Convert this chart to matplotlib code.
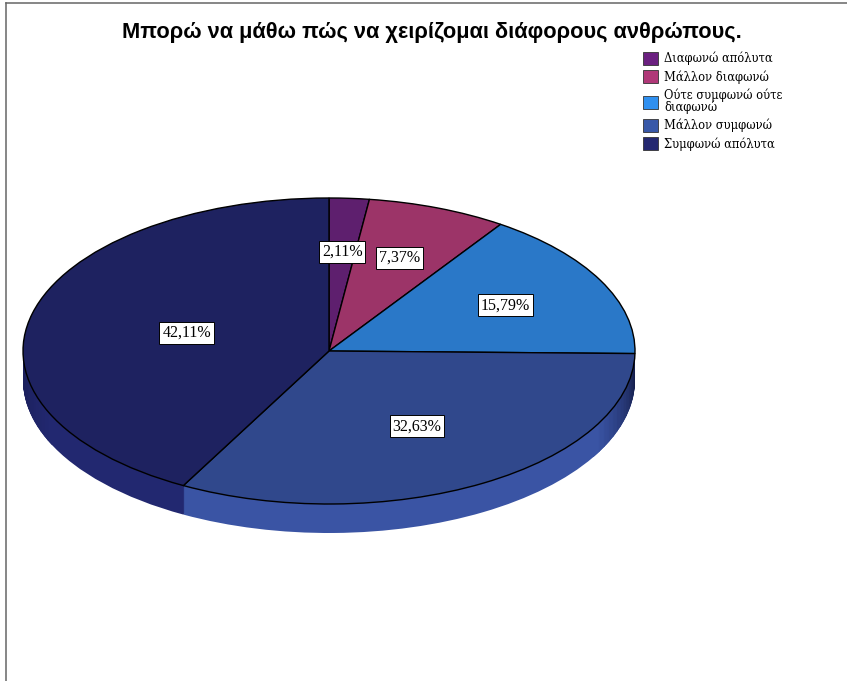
import numpy as np
import matplotlib
matplotlib.use('Agg')
import matplotlib.pyplot as plt
from matplotlib.colors import to_rgb
from matplotlib.patches import Patch, Wedge

title = 'Μπορώ να μάθω πώς να χειρίζομαι διάφορους ανθρώπους.'
categories = ['Διαφωνώ απόλυτα', 'Μάλλον διαφωνώ', 'Ούτε συμφωνώ ούτε\nδιαφωνώ',
              'Μάλλον συμφωνώ', 'Συμφωνώ απόλυτα']
values = [2.11, 7.37, 15.79, 32.63, 42.11]
labels = ['2,11%', '7,37%', '15,79%', '32,63%', '42,11%']

top_colors = ['#5e1f6e', '#9c3468', '#2a78c8', '#30488c', '#1e2260']
side_colors = ['#4f1a5c', '#852c58', '#2366a8', '#3a54a4', '#222870']
legend_colors = ['#6b2080', '#b03878', '#3090f0', '#3858a8', '#242870']
label_radius = [0.65, 0.65, 0.65, 0.57, 0.48]

RX = 306
DEPTH = 29 * 2  # y axis runs at 2 units per pixel, so the circle turns into an ellipse

fig = plt.figure(figsize=(8.47, 6.81), dpi=100)
ax = fig.add_axes([0, 0, 1, 1])


def shade_side(t0, t1, c0, c1, steps=14):
    # darker bit of the wall towards the far edges of the disc
    edges = np.linspace(t0, t1, steps + 1)
    c0, c1 = np.array(to_rgb(c0)), np.array(to_rgb(c1))
    for d in range(DEPTH, 0, -2):
        for i in range(steps):
            col = c0 + (c1 - c0) * i / (steps - 1)
            ax.add_patch(Wedge((0, -d), RX, min(edges[i], edges[i + 1]) - 0.2,
                               max(edges[i], edges[i + 1]) + 0.2, fc=col, ec='none', zorder=1))


# side of the disc: same pie repeated downwards
for d in range(DEPTH, 0, -2):
    ax.pie(values, colors=side_colors, startangle=90, counterclock=False,
           radius=RX, center=(0, -d), normalize=True, wedgeprops=dict(zorder=1))

shade_side(-1, -30, '#141c48', side_colors[3])
shade_side(180, 205, '#1a1e58', side_colors[4])

wedges, _ = ax.pie(values, colors=top_colors, startangle=90, counterclock=False,
                   radius=RX, center=(0, 0), normalize=True,
                   wedgeprops=dict(edgecolor='black', linewidth=1.0, zorder=2))

ax.set_aspect('auto')
ax.set_xlim(-329, 518)
ax.set_ylim(-660, 702)
ax.axis('off')

# value labels
for w, txt, r in zip(wedges, labels, label_radius):
    mid = np.deg2rad((w.theta1 + w.theta2) / 2)
    ax.text(RX * r * np.cos(mid), RX * r * np.sin(mid), txt,
            family='Liberation Serif', fontsize=11.5, color='black',
            ha='center', va='center', zorder=5,
            bbox=dict(boxstyle='square,pad=0.18', fc='white', ec='black', lw=0.7))

fig.text(0.5095, 0.952, title, family='Liberation Sans', fontweight='bold',
         fontsize=15.7, ha='center', va='center', color='black')

handles = [Patch(facecolor=c, edgecolor='#333333', linewidth=0.6) for c in legend_colors]
leg = fig.legend(handles, categories, loc='upper left', bbox_to_anchor=(0.759, 0.924),
                 frameon=False, handlelength=1.3, handleheight=1.3, handletextpad=0.55,
                 labelspacing=0.42, borderpad=0, borderaxespad=0,
                 prop=dict(family='DejaVu Serif', size=8.3))
for t in leg.get_texts():
    t.set_linespacing(0.85)

# frame lines of the original viewer
fig.add_artist(plt.Line2D([0.0075, 0.0075], [0, 0.995], color='#666666', lw=1.1))
fig.add_artist(plt.Line2D([0.0075, 1], [0.995, 0.995], color='#666666', lw=1.1))

fig.savefig('out.png', dpi=100, facecolor='white')
